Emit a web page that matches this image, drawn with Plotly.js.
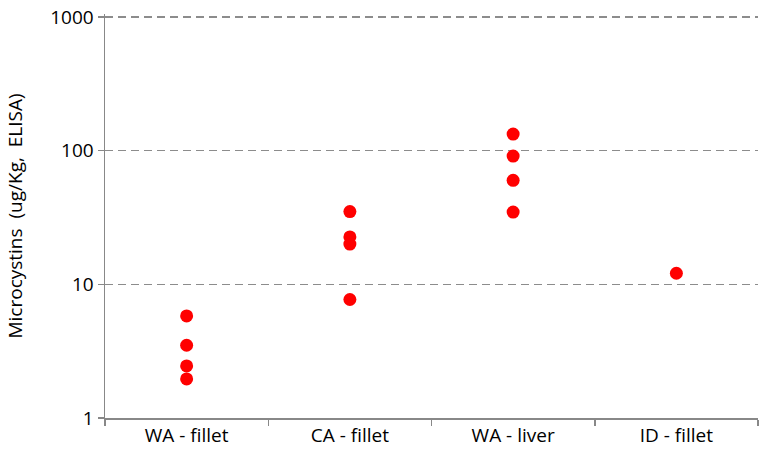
<!DOCTYPE html>
<html><head><meta charset="utf-8">
<script src="https://cdn.plot.ly/plotly-3.0.1.min.js"></script>
<style>body{margin:0;}#c{width:759px;height:460px;}</style>
</head><body><div id="c"></div>
<script>
const categories = ["WA - fillet", "CA - fillet", "WA - liver", "ID - fillet"];
const waFillet = [5.8, 3.5, 2.45, 1.96];
const caFillet = [35, 22.6, 20, 7.7];
const waLiver = [133, 91, 60, 34.7];
const idFillet = [12.1];
const yTicks = [1, 10, 100, 1000];
const yTickLabels = ["1", "10", "100", "1000"];

const groups = [waFillet, caFillet, waLiver, idFillet];
const xs = [], ys = [];
groups.forEach((g, i) => g.forEach(v => { xs.push(categories[i]); ys.push(v); }));

const font = "'Open Sans', sans-serif";
Plotly.newPlot('c', [{
  type: 'scatter', mode: 'markers', x: xs, y: ys,
  marker: {color: '#ff0000', size: 13},
  hoverinfo: 'x+y'
}], {
  width: 759, height: 460,
  margin: {l: 105, r: 1, t: 14, b: 42},
  paper_bgcolor: '#fff', plot_bgcolor: '#fff',
  showlegend: false,
  font: {family: font, color: '#000'},
  xaxis: {
    type: 'category', categoryorder: 'array', categoryarray: categories,
    range: [-0.5, 3.5], tickson: 'boundaries', ticks: 'outside', ticklen: 6,
    tickcolor: '#888', tickwidth: 1.5,
    showline: true, linecolor: '#888', linewidth: 1.5,
    showgrid: false, zeroline: false,
    tickfont: {size: 19, family: font}
  },
  yaxis: {
    type: 'log', range: [0, 3.022],
    tickvals: yTicks, ticktext: yTickLabels,
    ticks: 'outside', ticklen: 6, tickcolor: '#888', tickwidth: 1.5,
    showline: true, linecolor: '#888', linewidth: 1.5,
    showgrid: true, gridcolor: '#8c8c8c', griddash: '8px,5px', gridwidth: 1.5,
    zeroline: false,
    tickfont: {size: 19, family: font},
    title: {text: 'Microcystins  (ug/Kg,  ELISA)', font: {size: 19, family: font}, standoff: 22}
  }
}, {displayModeBar: false, staticPlot: true});
</script></body></html>
